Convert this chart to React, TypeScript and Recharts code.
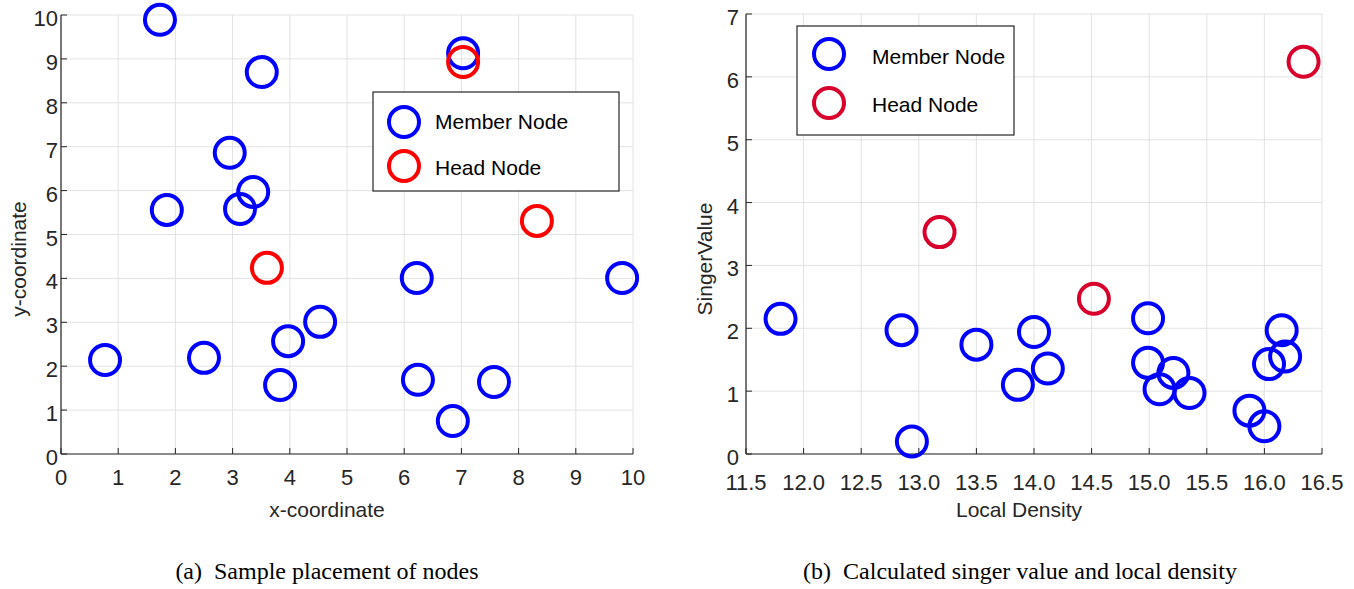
import React from "react";
import { ScatterChart, Scatter, XAxis, YAxis, CartesianGrid, Label } from "recharts";

const AXIS_COLOR = "#262626";
const GRID_COLOR = "#e2e2e2";
const SANS = "'Liberation Sans', Arial, Helvetica, sans-serif";
const SERIF = "'Liberation Serif', 'Times New Roman', serif";
const BLUE = "#0000ff";

// (a) node positions in the field
const memberX = [1.73, 7.03, 3.51, 2.95, 3.36, 3.13, 1.85, 6.22, 9.81, 4.53, 3.97, 0.77, 2.5, 3.83, 6.24, 7.57, 6.85];
const memberY = [9.89, 9.13, 8.7, 6.86, 5.97, 5.58, 5.56, 4.01, 4.01, 3.01, 2.57, 2.14, 2.19, 1.57, 1.69, 1.64, 0.75];
const headX = [7.03, 8.32, 3.6];
const headY = [8.93, 5.31, 4.24];

// (b) singer value against local density
const memberDensity = [11.8, 12.85, 12.94, 13.5, 13.86, 14.0, 14.12, 14.99, 14.99, 15.21, 15.09, 15.35, 15.87, 16.0, 16.04, 16.15, 16.18];
const memberSinger = [2.15, 1.97, 0.2, 1.74, 1.1, 1.94, 1.36, 2.16, 1.45, 1.29, 1.03, 0.97, 0.69, 0.44, 1.43, 1.97, 1.55];
const headDensity = [13.18, 14.52, 16.34];
const headSinger = [3.53, 2.47, 6.24];

const xTicksA = [0, 1, 2, 3, 4, 5, 6, 7, 8, 9, 10];
const yTicksA = [0, 1, 2, 3, 4, 5, 6, 7, 8, 9, 10];
const xTicksB = [11.5, 12, 12.5, 13, 13.5, 14, 14.5, 15, 15.5, 16, 16.5];
const yTicksB = [0, 1, 2, 3, 4, 5, 6, 7];

const zip = (xs: number[], ys: number[]) => xs.map((x, i) => ({ x, y: ys[i] }));

const ring = (color: string) => (p: any) => (
  <circle cx={p.cx} cy={p.cy} r={15} fill="none" stroke={color} strokeWidth={4} />
);

const TICK = 6;
const TICK_FONT = 22;

interface PanelProps {
  left: number;
  width: number;
  height: number;
  top: number;
  right: number;
  yAxisWidth: number;
  xDomain: [number, number];
  yDomain: [number, number];
  xTicks: number[];
  yTicks: number[];
  fmt: (v: number) => string;
  xTitle: string;
  xTitleDx: number;
  yTitle: string;
  yTitleX: number;
  yTitleDy: number;
  xLabelBase: number;
  yLabelGap: number;
  members: { x: number; y: number }[];
  heads: { x: number; y: number }[];
  headColor: string;
}

function Panel(p: PanelProps) {
  const bottomTick = (t: any) => (
    <g>
      <line x1={t.x} x2={t.x} y1={t.y} y2={t.y - TICK} stroke={AXIS_COLOR} />
      <text x={t.x} y={t.y + p.xLabelBase} textAnchor="middle" fontSize={TICK_FONT} fill={AXIS_COLOR} fontFamily={SANS}>
        {p.fmt(t.payload.value)}
      </text>
    </g>
  );
  const topTick = (t: any) => (
    <line x1={t.x} x2={t.x} y1={t.y} y2={t.y + TICK} stroke={AXIS_COLOR} />
  );
  const leftTick = (t: any) => (
    <g>
      <line x1={t.x} x2={t.x + TICK} y1={t.y} y2={t.y} stroke={AXIS_COLOR} />
      <text x={t.x - p.yLabelGap} y={t.y + 11} textAnchor="end" fontSize={TICK_FONT} fill={AXIS_COLOR} fontFamily={SANS}>
        {t.payload.value}
      </text>
    </g>
  );
  const rightTick = (t: any) => (
    <line x1={t.x} x2={t.x - TICK} y1={t.y} y2={t.y} stroke={AXIS_COLOR} />
  );

  const xTitle = (l: any) => {
    const vb = l.viewBox || { x: 0, y: 0, width: 0, height: 0 };
    return (
      <text x={vb.x + vb.width / 2 + p.xTitleDx} y={vb.y + 63} textAnchor="middle" fontSize={21} fill={AXIS_COLOR} fontFamily={SANS}>
        {p.xTitle}
      </text>
    );
  };
  const yTitle = (l: any) => {
    const vb = l.viewBox || { x: 0, y: 0, width: 0, height: 0 };
    const cx = vb.x + p.yTitleX;
    const cy = vb.y + vb.height / 2 + p.yTitleDy;
    return (
      <text x={cx} y={cy} transform={`rotate(-90, ${cx}, ${cy})`} textAnchor="middle" fontSize={21} fill={AXIS_COLOR} fontFamily={SANS}>
        {p.yTitle}
      </text>
    );
  };

  const axisLine = { stroke: AXIS_COLOR, strokeWidth: 1.2 };

  return (
    <div style={{ position: "absolute", left: p.left, top: 0 }}>
      <ScatterChart width={p.width} height={p.height} margin={{ top: p.top, right: p.right, bottom: 0, left: 0 }}>
        <CartesianGrid stroke={GRID_COLOR} horizontalValues={p.yTicks} verticalValues={p.xTicks} />
        <XAxis
          dataKey="x"
          type="number"
          domain={p.xDomain}
          ticks={p.xTicks}
          height={86}
          tickSize={0}
          tickMargin={0}
          tickLine={false}
          axisLine={axisLine}
          tick={bottomTick}
          interval={0}
        >
          <Label content={xTitle} />
        </XAxis>
        <XAxis
          xAxisId="top"
          orientation="top"
          type="number"
          domain={p.xDomain}
          ticks={p.xTicks}
          height={0}
          tickSize={0}
          tickMargin={0}
          tickLine={false}
          axisLine={axisLine}
          tick={topTick}
          interval={0}
        />
        <YAxis
          dataKey="y"
          type="number"
          domain={p.yDomain}
          ticks={p.yTicks}
          width={p.yAxisWidth}
          tickSize={0}
          tickMargin={0}
          tickLine={false}
          axisLine={axisLine}
          tick={leftTick}
          interval={0}
        >
          <Label content={yTitle} />
        </YAxis>
        <YAxis
          yAxisId="right"
          orientation="right"
          type="number"
          domain={p.yDomain}
          ticks={p.yTicks}
          width={0}
          tickSize={0}
          tickMargin={0}
          tickLine={false}
          axisLine={axisLine}
          tick={rightTick}
          interval={0}
        />
        <Scatter name="Member Node" data={p.members} shape={ring(BLUE)} isAnimationActive={false} />
        <Scatter name="Head Node" data={p.heads} shape={ring(p.headColor)} isAnimationActive={false} />
      </ScatterChart>
    </div>
  );
}

function LegendBox({ x, y, w, h, rows, textX, color2 }: any) {
  return (
    <g fontFamily={SANS} fontSize={21} fill="#000">
      <rect x={x} y={y} width={w} height={h} fill="#fff" stroke={AXIS_COLOR} strokeWidth={1.2} />
      <circle cx={rows[0].cx} cy={rows[0].cy} r={15} fill="none" stroke={BLUE} strokeWidth={4} />
      <text x={textX} y={rows[0].base}>Member Node</text>
      <circle cx={rows[1].cx} cy={rows[1].cy} r={15} fill="none" stroke={color2} strokeWidth={4} />
      <text x={textX} y={rows[1].base}>Head Node</text>
    </g>
  );
}

export default function App() {
  return (
    <div style={{ position: "absolute", left: 0, top: 0, width: 1354, height: 589, background: "#fff", overflow: "hidden" }}>
      <Panel
        left={0}
        width={680}
        height={540}
        top={15}
        right={47}
        yAxisWidth={61}
        xDomain={[0, 10]}
        yDomain={[0, 10]}
        xTicks={xTicksA}
        yTicks={yTicksA}
        fmt={(v) => String(v)}
        xTitle="x-coordinate"
        xTitleDx={-20}
        yTitle="y-coordinate"
        yTitleX={26}
        yTitleDy={24.5}
        xLabelBase={31}
        yLabelGap={3}
        members={zip(memberX, memberY)}
        heads={zip(headX, headY)}
        headColor="#ff0000"
      />
      <Panel
        left={680}
        width={674}
        height={540}
        top={14}
        right={32}
        yAxisWidth={66}
        xDomain={[11.5, 16.5]}
        yDomain={[0, 7]}
        xTicks={xTicksB}
        yTicks={yTicksB}
        fmt={(v) => v.toFixed(1)}
        xTitle="Local Density"
        xTitleDx={-15}
        yTitle="SingerValue"
        yTitleX={31.5}
        yTitleDy={25}
        xLabelBase={36}
        yLabelGap={7}
        members={zip(memberDensity, memberSinger)}
        heads={zip(headDensity, headSinger)}
        headColor="#d8002a"
      />
      <svg width={1354} height={589} style={{ position: "absolute", left: 0, top: 0, pointerEvents: "none" }}>
        <LegendBox
          x={373}
          y={92}
          w={246}
          h={99}
          textX={435}
          color2="#ff0000"
          rows={[
            { cx: 404, cy: 122, base: 129 },
            { cx: 404, cy: 166, base: 175 },
          ]}
        />
        <LegendBox
          x={797}
          y={26}
          w={217}
          h={109}
          textX={872}
          color2="#d8002a"
          rows={[
            { cx: 829, cy: 54, base: 64 },
            { cx: 829, cy: 103, base: 112 },
          ]}
        />
        <g fontFamily={SERIF} fontSize={24} fill="#000">
          <text x={327} y={579} textAnchor="middle" xmlSpace="preserve">
            {"(a)  Sample placement of nodes"}
          </text>
          <text x={1020} y={579} textAnchor="middle" xmlSpace="preserve">
            {"(b)  Calculated singer value and local density"}
          </text>
        </g>
      </svg>
    </div>
  );
}
